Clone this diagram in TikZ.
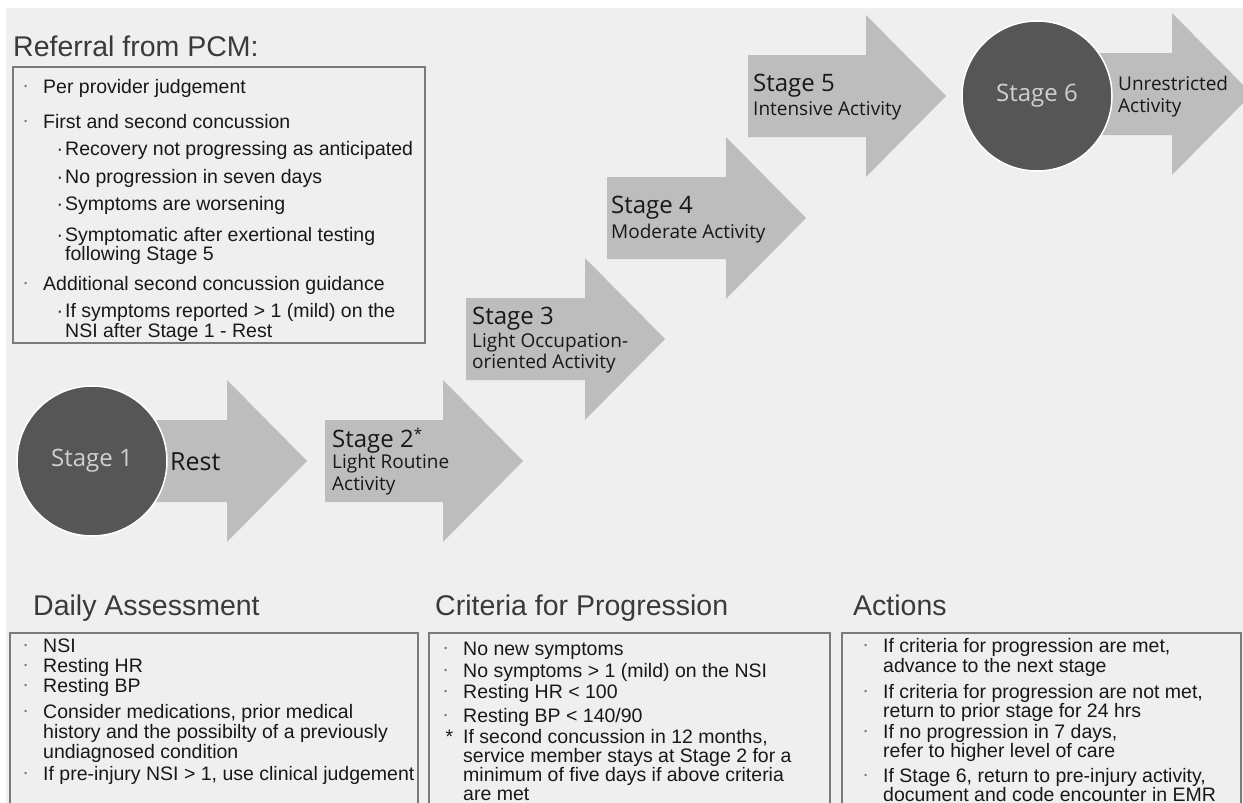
\documentclass[tikz,border=0pt]{standalone}
\usepackage{fontspec}
\setmainfont{Liberation Sans}
\newfontfamily\stagefont{Open Sans}
\definecolor{bggray}{HTML}{EFEFEF}
\definecolor{arrowgray}{HTML}{BDBDBD}
\definecolor{circlegray}{HTML}{565656}
\definecolor{circletext}{HTML}{D0D0D0}
\definecolor{boxgray}{HTML}{7A7A7A}
\definecolor{bodygray}{HTML}{181818}
\definecolor{headgray}{HTML}{3A3A3A}
\newcommand{\bodyfont}{\fontsize{19.5}{20}\selectfont}
\newcommand{\headfont}{\fontsize{28.5}{30}\selectfont}
\newcommand{\bul}{\llap{\raisebox{4pt}{\fontsize{9}{9}\selectfont\textcolor{boxgray}{\textbullet}}\hspace{16pt}}}
\newcommand{\subbul}{\llap{·\hspace{2pt}}}
\newcommand{\starbul}{\llap{*\hspace{10pt}}}
% #1 left end, #2 centre line, #3 start of the head
\newcommand{\stagearrow}[3]{%
  \fill[arrowgray] (#1,#2-41) -- (#3,#2-41) -- (#3,#2-81) -- (#3+80,#2)
    -- (#3,#2+81) -- (#3,#2+41) -- (#1,#2+41) -- cycle;}

\begin{document}
\begin{tikzpicture}[x=1pt, y=-1pt,
    bodytext/.style={anchor=base west, inner sep=0pt, font=\bodyfont, text=bodygray},
    headtext/.style={anchor=base west, inner sep=0pt, font=\headfont, text=headgray},
    infobox/.style={draw=boxgray, line width=1.3pt},
    stagecircle/.style={circle, fill=circlegray, draw=white, line width=1.5pt,
      minimum size=150pt, inner sep=0pt, text=circletext,
      font=\stagefont\fontsize{24}{24}\selectfont},
    stagehead/.style={anchor=base west, inner sep=0pt, text=bodygray,
      font=\stagefont\fontsize{24}{24}\selectfont},
    stagesub/.style={anchor=base west, inner sep=0pt, text=bodygray,
      font=\stagefont\fontsize{19}{19}\selectfont}]
  \useasboundingbox (0,0) rectangle (1243,803);
  \clip (0,0) rectangle (1243,803);
  \fill[white] (0,0) rectangle (1243,803);
  \fill[bggray] (6,8) rectangle (1243,803);

  % stair of stages
  \stagearrow{92}{461}{227}
  \stagearrow{325}{461}{443}
  \stagearrow{466}{339}{585}
  \stagearrow{607}{218}{726}
  \stagearrow{748}{96}{866}
  \stagearrow{1037}{94}{1172}
  \node[stagecircle] (s1) at (92,461) {Stage 1};
  \node[stagecircle] (s6) at (1037,96) {Stage 6};

  \node[stagehead, font=\stagefont\fontsize{25}{25}\selectfont] (rest) at (170,470) {Rest};
  \node[stagehead] (s2) at (332,447) {Stage 2\raisebox{0.3em}{\fontsize{15}{15}\selectfont*}};
  \node[stagesub] (s2a) at (332,468) {Light Routine};
  \node[stagesub] (s2b) at (332,490) {Activity};
  \node[stagehead] (s3) at (472,324) {Stage 3};
  \node[stagesub] (s3a) at (472,347) {Light Occupation-};
  \node[stagesub] (s3b) at (472,368) {oriented Activity};
  \node[stagehead] (s4) at (611,213) {Stage 4};
  \node[stagesub] (s4a) at (611,238) {Moderate Activity};
  \node[stagehead] (s5) at (753,91) {Stage 5};
  \node[stagesub] (s5a) at (753,115) {Intensive Activity};
  \node[stagesub] (s6a) at (1118,90) {Unrestricted};
  \node[stagesub] (s6b) at (1118,112) {Activity};

  % referral
  \node[headtext] (refhead) at (13,56) {Referral from PCM:};
  \draw[infobox] (13,67) rectangle (425,343);
  \foreach \x/\y/\t [count=\i] in {
      43/93/{\bul Per provider judgement},
      43/128/{\bul First and second concussion},
      65/155/{\subbul Recovery not progressing as anticipated},
      65/183/{\subbul No progression in seven days},
      65/210/{\subbul Symptoms are worsening},
      65/241/{\subbul Symptomatic after exertional testing},
      65/260/{following Stage 5},
      43/290/{\bul Additional second concussion guidance},
      65/317/{\subbul If symptoms reported > 1 (mild) on the},
      65/337/{NSI after Stage 1 - Rest}}
    \node[bodytext] (ref\i) at (\x,\y) {\t};

  % daily assessment
  \node[headtext] (dailyhead) at (33,615) {Daily Assessment};
  \draw[infobox] (10,633) rectangle (418,840);
  \foreach \y/\t [count=\i] in {
      652/{\bul NSI},
      672/{\bul Resting HR},
      692/{\bul Resting BP},
      718/{\bul Consider medications, prior medical},
      738/{history and the possibilty of a previously},
      758/{undiagnosed condition},
      780/{\bul If pre-injury NSI > 1, use clinical judgement}}
    \node[bodytext] (daily\i) at (43,\y) {\t};

  % criteria
  \node[headtext] (crithead) at (435,615) {Criteria for Progression};
  \draw[infobox] (429,633) rectangle (830,840);
  \foreach \y/\t [count=\i] in {
      655/{\bul No new symptoms},
      677/{\bul No symptoms > 1 (mild) on the NSI},
      698/{\bul Resting HR < 100},
      722/{\bul Resting BP < 140/90},
      743/{\starbul If second concussion in 12 months,},
      762/{service member stays at Stage 2 for a},
      781/{minimum of five days if above criteria},
      800/{are met}}
    \node[bodytext] (crit\i) at (463,\y) {\t};

  % actions
  \node[headtext] (acthead) at (853,615) {Actions};
  \draw[infobox] (842,633) rectangle (1241,840);
  \foreach \y/\t [count=\i] in {
      652/{\bul If criteria for progression are met,},
      672/{advance to the next stage},
      698/{\bul If criteria for progression are not met,},
      717/{return to prior stage for 24 hrs},
      738/{\bul If no progression in 7 days,},
      757/{refer to higher level of care},
      782/{\bul If Stage 6, return to pre-injury activity,},
      801/{document and code encounter in EMR}}
    \node[bodytext] (act\i) at (883,\y) {\t};
\end{tikzpicture}
\end{document}
